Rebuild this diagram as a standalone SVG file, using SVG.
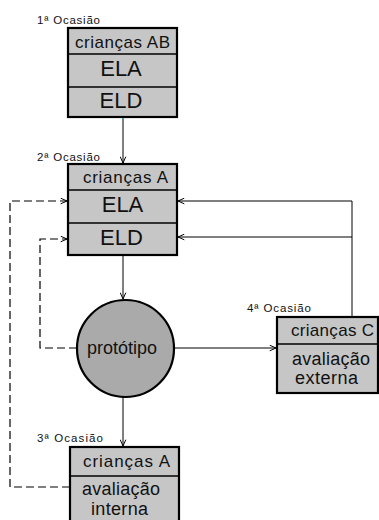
<svg xmlns="http://www.w3.org/2000/svg" width="379" height="520" viewBox="0 0 379 520">
  <defs>
    <style>
      .box { fill: #c6c6c6; stroke: #000; stroke-width: 2.2; }
      .div { stroke: #000; stroke-width: 1.4; fill: none; }
      .proto { fill: #aaaaaa; stroke: #000; stroke-width: 2.2; }
      .t { font-family: "Liberation Sans", Arial, sans-serif; fill: #111; text-anchor: middle; }
      .hd { font-size: 17px; }
      .big { font-size: 22px; }
      .mid { font-size: 18px; }
      .occ { font-family: "Liberation Sans", Arial, sans-serif; font-size: 11.5px; fill: #111; }
      .conn { stroke: #000; stroke-width: 1; fill: none; }
      .dash { stroke: #000; stroke-width: 1.2; fill: none; stroke-dasharray: 8 4; }
    </style>
    <marker id="arr" viewBox="0 0 10 10" refX="10" refY="5" markerWidth="7" markerHeight="7" markerUnits="userSpaceOnUse" orient="auto">
      <path d="M1,1 L10,5 L1,9" fill="none" stroke="#000" stroke-width="1.4"/>
    </marker>
  </defs>

  <!-- connectors -->
  <g id="connectors">
    <path class="conn" d="M123,118 V163" marker-end="url(#arr)"/>
    <path class="conn" d="M123,256 V299" marker-end="url(#arr)"/>
    <path class="conn" d="M123,397 V446" marker-end="url(#arr)"/>
    <path class="conn" d="M174,348 H276" marker-end="url(#arr)"/>
    <path class="conn" d="M352,317 V201 H178" marker-end="url(#arr)"/>
    <path class="conn" d="M352,237 H178" marker-end="url(#arr)"/>
    <path class="dash" d="M77,348 H40 V239 H67" marker-end="url(#arr)"/>
    <path class="dash" d="M70,487 H10 V201 H67" marker-end="url(#arr)"/>
    <rect x="122" y="117" width="2" height="2" fill="#2bc4e8"/>
  </g>

  <!-- 1st occasion -->
  <g id="occ1">
    <text class="occ" x="37" y="24" textLength="63" lengthAdjust="spacing">1ª Ocasião</text>
    <rect class="box" x="68" y="28" width="109" height="89"/>
    <line class="div" x1="68" y1="54" x2="177" y2="54"/>
    <line class="div" x1="68" y1="87" x2="177" y2="87"/>
    <text class="t hd" x="122.5" y="48" textLength="95" lengthAdjust="spacing">crianças AB</text>
    <text class="t big" x="121" y="76">ELA</text>
    <text class="t big" x="121" y="108">ELD</text>
  </g>

  <!-- 2nd occasion -->
  <g id="occ2">
    <text class="occ" x="37" y="161" textLength="63" lengthAdjust="spacing">2ª Ocasião</text>
    <rect class="box" x="68" y="164" width="109" height="91"/>
    <line class="div" x1="68" y1="190" x2="177" y2="190"/>
    <line class="div" x1="68" y1="223" x2="177" y2="223"/>
    <text class="t hd" x="125.5" y="183" textLength="85" lengthAdjust="spacing">crianças A</text>
    <text class="t big" x="122.5" y="212">ELA</text>
    <text class="t big" x="121.5" y="245">ELD</text>
  </g>

  <!-- prototype -->
  <g id="prototype">
    <circle class="proto" cx="125.5" cy="348.5" r="48.5"/>
    <text class="t mid" x="122" y="354" textLength="70" lengthAdjust="spacing">protótipo</text>
  </g>

  <!-- 3rd occasion -->
  <g id="occ3">
    <text class="occ" x="37" y="442" textLength="66" lengthAdjust="spacing">3ª Ocasião</text>
    <rect class="box" x="70" y="447" width="109" height="80"/>
    <line class="div" x1="70" y1="476" x2="179" y2="476"/>
    <text class="t hd" x="126.5" y="467" textLength="87" lengthAdjust="spacing">crianças A</text>
    <text class="t mid" x="121" y="495" textLength="78" lengthAdjust="spacing">avaliação</text>
    <text class="t mid" x="119.5" y="515" textLength="57" lengthAdjust="spacing">interna</text>
  </g>

  <!-- 4th occasion -->
  <g id="occ4">
    <text class="occ" x="247" y="312" textLength="64" lengthAdjust="spacing">4ª Ocasião</text>
    <rect class="box" x="277" y="317" width="101" height="76"/>
    <line class="div" x1="277" y1="344" x2="378" y2="344"/>
    <text class="t hd" x="332.5" y="336" textLength="83" lengthAdjust="spacing">crianças C</text>
    <text class="t mid" x="331" y="365" textLength="78" lengthAdjust="spacing">avaliação</text>
    <text class="t mid" x="326.5" y="384" textLength="63" lengthAdjust="spacing">externa</text>
  </g>
</svg>
